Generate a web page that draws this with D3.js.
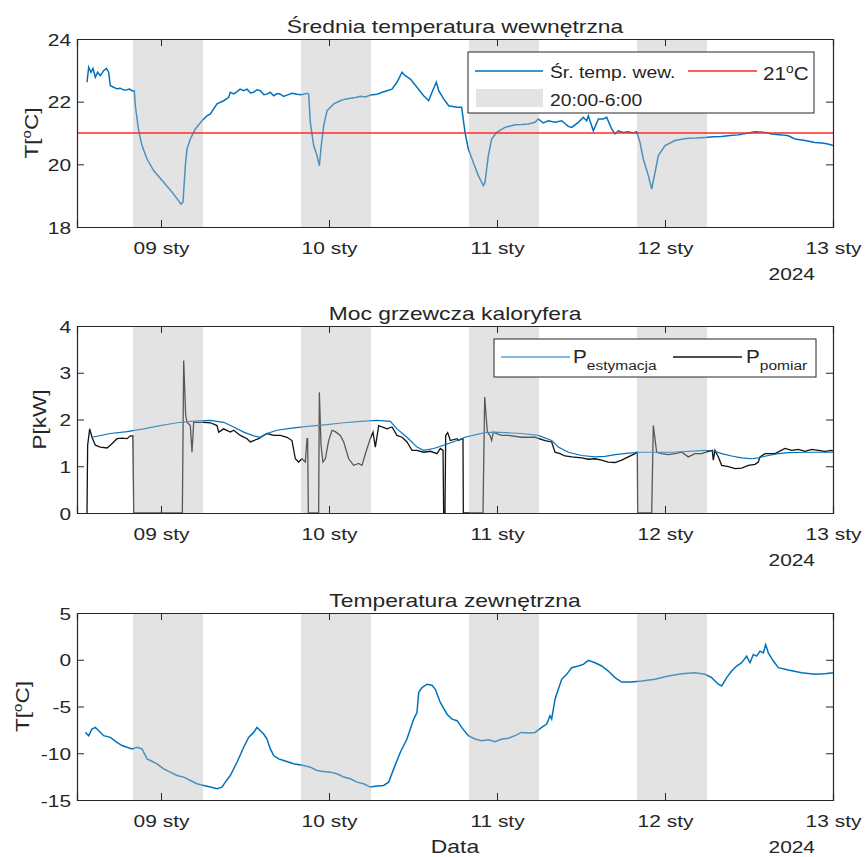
<!DOCTYPE html>
<html><head><meta charset="utf-8">
<script src="https://cdn.jsdelivr.net/npm/d3@7"></script>
<style>body{margin:0;background:#fff}svg{display:block}text{font-family:"Liberation Sans",Arial,sans-serif;fill:#262626}</style>
</head><body>
<svg id="c" width="865" height="857"></svg>
<script>
// ---- data (time in hours since 2024-01-08 12:00) ----
const tickLabels = ["09 sty","10 sty","11 sty","12 sty","13 sty"];
const yearLabel = "2024";
const titles = ["Średnia temperatura wewnętrzna","Moc grzewcza kaloryfera","Temperatura zewnętrzna"];
const nightStartH = [8, 32, 56, 80];   // 20:00 each evening
const nightEndH   = [18, 42, 66, 90];  // 6:00 next morning
const setpoint = 21;

const tinH = [1.43,1.67,2.0,2.29,2.62,2.95,3.33,3.81,4.19,4.52,4.76,5.24,5.7,6.19,6.7,7.14,7.5,7.86,8.19,8.33,8.81,9.29,10.0,10.95,12.38,13.81,14.86,15.14,15.48,15.71,16.19,16.9,17.86,18.57,19.05,20.0,20.95,21.67,21.9,22.4,22.86,23.3,23.81,24.29,24.8,25.24,25.7,26.19,26.7,27.14,27.6,28.1,28.6,29.05,29.5,30.0,30.7,31.43,32.1,32.86,33.1,33.33,33.81,34.29,34.62,34.9,35.24,35.71,36.67,37.62,38.3,39.05,39.8,40.48,41.2,41.9,42.86,43.6,44.29,45.0,45.71,46.43,46.9,47.62,48.57,49.52,50.24,50.71,51.33,51.67,52.38,53.1,54.29,54.95,55.43,55.9,56.62,57.33,58.05,58.29,58.76,59.24,59.95,61.14,62.57,63.5,64.48,65.43,65.9,66.6,67.33,68.29,69.24,70.19,70.67,71.62,72.33,72.81,73.05,73.76,74.48,75.19,75.67,76.38,76.86,77.33,78.0,78.76,79.4,79.95,80.43,80.9,81.62,82.1,82.57,83.05,84.0,85.43,86.4,87.33,88.5,89.71,90.9,92.1,93.3,94.48,95.9,96.86,98.29,99.24,100.67,101.62,102.57,104.0,105.43,106.38,107.1,107.81,108.0];
const tinV = [22.62,23.10,22.94,23.06,22.78,22.94,22.83,22.99,23.06,22.94,22.51,22.46,22.41,22.43,22.37,22.38,22.40,22.35,22.35,21.87,21.07,20.60,20.17,19.80,19.43,19.05,18.73,18.79,19.96,20.49,20.81,21.13,21.39,21.55,21.61,21.93,22.03,22.14,22.30,22.25,22.32,22.40,22.35,22.40,22.28,22.30,22.38,22.35,22.22,22.24,22.30,22.19,22.26,22.24,22.17,22.21,22.27,22.24,22.22,22.27,22.24,21.34,20.60,20.28,19.96,20.60,21.23,21.71,21.93,22.03,22.08,22.11,22.13,22.17,22.15,22.21,22.24,22.30,22.35,22.40,22.62,22.94,22.83,22.72,22.46,22.19,22.03,22.30,22.62,22.35,22.09,21.87,21.82,21.82,21.02,20.49,20.06,19.64,19.32,19.43,20.28,20.81,21.02,21.18,21.26,21.27,21.29,21.34,21.45,21.32,21.39,21.34,21.39,21.21,21.18,21.34,21.50,21.39,21.55,21.07,21.45,21.45,21.50,21.13,20.97,21.07,21.02,21.04,21.00,21.04,20.70,20.17,19.64,19.21,19.74,20.28,20.60,20.76,20.80,20.83,20.84,20.86,20.88,20.89,20.92,20.94,21.00,21.04,21.02,20.97,20.94,20.91,20.81,20.76,20.70,20.68,20.66,20.62,20.60];

const pEstH = [2.14,4.76,7.14,9.52,11.9,14.29,16.19,19.05,20.95,22.38,23.81,25.24,26.19,27.14,28.57,30.95,33.33,35.71,38.1,40.48,42.86,44.76,45.71,47.14,48.57,49.52,50.95,52.38,54.29,55.43,56.86,58.29,59.71,61.14,63.52,65.9,67.81,68.76,70.19,72.1,74.0,75.43,76.86,78.76,80.67,84.95,87.33,89.71,91.14,92.1,93.52,94.95,96.38,97.33,98.76,100.19,101.62,104.0,108.0];
const pEstV = [1.62,1.70,1.74,1.80,1.87,1.93,1.96,1.98,1.94,1.84,1.73,1.65,1.62,1.70,1.77,1.82,1.86,1.89,1.93,1.96,1.98,1.96,1.80,1.62,1.41,1.34,1.38,1.45,1.55,1.62,1.67,1.72,1.73,1.72,1.70,1.66,1.55,1.41,1.30,1.23,1.20,1.21,1.25,1.28,1.30,1.30,1.32,1.34,1.32,1.27,1.22,1.18,1.16,1.18,1.23,1.27,1.29,1.30,1.30];

const pMeasH = [1.43,1.52,1.81,2.14,2.62,3.33,4.29,4.76,5.24,5.71,6.43,7.14,7.62,8.0,8.1,15.05,15.24,15.52,15.71,16.19,16.43,16.67,17.14,18.1,19.05,20.0,20.24,20.95,21.9,22.38,23.33,24.29,24.76,25.24,25.95,26.67,27.14,28.1,29.05,30.0,30.71,31.19,31.67,32.14,32.62,32.86,32.95,33.05,34.52,34.62,34.86,35.14,35.48,35.95,36.43,36.9,37.62,38.1,38.81,39.52,40.24,40.71,41.43,41.9,42.29,42.62,43.1,43.57,44.29,45.0,45.71,46.43,47.14,47.86,48.57,49.52,50.48,51.43,51.9,52.29,52.38,52.57,52.67,52.95,53.33,54.29,54.48,55.05,55.14,55.19,58.0,58.24,58.62,59.0,59.24,59.48,59.95,60.67,61.62,63.52,65.43,66.86,67.81,68.29,69.0,69.71,70.67,72.1,73.05,74.0,74.95,75.9,76.86,77.81,78.76,79.71,79.95,80.05,80.1,82.1,82.33,82.81,83.52,84.48,85.43,86.38,87.33,88.29,89.24,90.19,90.76,90.9,91.14,91.62,92.1,93.05,94.0,94.95,95.9,96.86,97.33,97.57,98.29,99.71,101.14,102.1,103.05,104.0,104.95,105.9,106.86,107.81,108.0];
const pMeasV = [0,1.45,1.80,1.62,1.45,1.41,1.39,1.45,1.52,1.59,1.60,1.59,1.65,1.65,0,0,3.26,2.10,1.94,1.87,1.30,1.94,1.94,1.94,1.93,1.87,1.73,1.80,1.73,1.77,1.66,1.59,1.52,1.55,1.59,1.66,1.70,1.66,1.66,1.62,1.55,1.16,1.09,1.16,1.09,1.59,1.59,0,0,2.58,1.45,1.09,1.16,1.55,1.77,1.74,1.66,1.52,1.16,1.02,1.06,1.02,1.38,1.59,1.73,1.41,1.87,1.84,1.80,1.84,1.66,1.62,1.52,1.34,1.34,1.30,1.32,1.27,1.38,1.34,0,0,1.66,1.72,1.55,1.59,1.55,1.59,1.59,0,0,2.48,1.73,1.66,1.55,1.73,1.70,1.66,1.66,1.62,1.62,1.55,1.52,1.30,1.27,1.22,1.20,1.18,1.15,1.16,1.13,1.09,1.08,1.13,1.20,1.27,1.30,1.30,0,0,1.87,1.30,1.27,1.25,1.27,1.30,1.20,1.27,1.27,1.32,1.34,1.13,1.34,1.20,1.02,0.99,0.95,0.96,1.02,1.04,1.09,1.20,1.27,1.27,1.38,1.34,1.36,1.32,1.36,1.34,1.32,1.34,1.33];

const toutH = [1.19,1.67,2.14,2.62,3.1,3.81,4.76,5.71,6.43,7.14,7.86,8.57,9.29,10.0,10.48,11.43,12.38,13.33,14.29,15.24,16.19,17.14,18.1,19.05,20.0,20.71,21.19,21.9,22.86,23.81,24.52,25.24,25.71,26.19,26.67,27.14,27.62,28.1,28.81,29.52,30.95,32.38,33.33,34.29,35.24,36.19,37.14,38.1,39.05,40.0,40.95,41.9,42.86,43.81,44.52,45.24,46.19,47.14,48.1,48.57,48.81,49.29,50.0,50.71,51.19,51.9,52.86,53.57,54.29,54.48,54.95,55.9,56.86,57.81,58.76,59.71,60.67,61.62,62.57,63.52,64.48,65.43,66.38,67.1,67.57,67.81,68.29,68.76,69.24,69.95,70.67,71.62,72.33,73.05,74.0,74.95,75.9,76.86,77.81,79.24,80.67,82.57,84.48,86.38,88.29,89.71,90.67,91.62,92.1,92.81,93.52,94.24,94.95,95.67,96.14,96.62,97.1,97.57,98.05,98.38,98.76,99.48,100.19,101.62,103.52,105.43,106.86,108.0];
const toutV = [-7.77,-8.12,-7.41,-7.23,-7.59,-8.12,-8.30,-8.83,-9.18,-9.36,-9.54,-9.36,-9.54,-10.60,-10.78,-11.13,-11.67,-12.02,-12.38,-12.55,-12.91,-13.26,-13.44,-13.62,-13.79,-13.62,-13.09,-12.38,-10.96,-9.36,-8.30,-7.77,-7.23,-7.59,-7.94,-8.48,-9.54,-10.25,-10.60,-10.78,-11.13,-11.31,-11.49,-11.84,-11.95,-12.02,-12.20,-12.55,-12.73,-13.09,-13.26,-13.62,-13.51,-13.44,-13.09,-11.67,-9.89,-8.48,-6.35,-5.64,-3.51,-2.98,-2.62,-2.73,-3.16,-4.57,-5.82,-6.35,-6.52,-6.70,-7.23,-8.12,-8.48,-8.65,-8.55,-8.76,-8.48,-8.40,-8.12,-7.77,-7.84,-7.77,-7.23,-6.88,-5.99,-6.35,-4.22,-3.16,-2.09,-1.56,-0.85,-0.67,-0.50,-0.07,-0.32,-0.67,-1.21,-1.91,-2.38,-2.38,-2.27,-2.09,-1.74,-1.49,-1.38,-1.56,-1.91,-2.62,-2.80,-1.91,-1.21,-0.67,-0.32,0.39,-0.32,0.57,0.39,0.92,0.74,1.63,0.74,-0.14,-0.85,-1.10,-1.38,-1.56,-1.49,-1.38];

// ---- layout ----
const L = 77, R = 833;
const SX = 1.23; // horizontal glyph stretch of the reference font
const panels = [
  {top:39, bot:227, dom:[18,24], ticks:[18,20,22,24], unit:true, ylx:38},
  {top:326, bot:513, dom:[0,4], ticks:[0,1,2,3,4], ylab:"P[kW]", ylx:46},
  {top:613, bot:800, dom:[-15,5], ticks:[-15,-10,-5,0,5], unit:true, ylx:29}
];
const t0 = new Date(2024,0,8,12,0,0);
const hd = h => new Date(t0.getTime() + h*3600e3);
const x = d3.scaleTime().domain([t0, hd(108)]).range([L, R]);
const tickDates = tickLabels.map((s,i)=> new Date(2024,0,9+i));
const blue = "#0072BD", red = "#FF2A2A", dark = "#262626";
const svg = d3.select("#c");

function stretch(sel, k){
  sel.each(function(){
    const t = d3.select(this);
    const xx = +(t.attr("x")||0);
    t.attr("x", xx/k);
    const tr = t.attr("transform")||"";
    t.attr("transform", tr + ` scale(${k},1)`);
  });
  return sel;
}
function htext(parent, x0, y0, size, k){
  return parent.append("text").attr("transform",`translate(${x0},${y0}) scale(${k||SX},1)`).attr("font-size",size);
}
function degLabel(sel, pre, post, sup){
  sel.append("tspan").text(pre);
  sel.append("tspan").text("o").attr("font-size", sup||11).attr("dy", -7);
  sel.append("tspan").text(post).attr("dy", 7);
}

panels.forEach((p, i) => {
  const y = d3.scaleLinear().domain(p.dom).range([p.bot, p.top]);
  const g = svg.append("g");
  const cid = "clip"+i;
  svg.append("clipPath").attr("id", cid).append("rect").attr("x", L).attr("y", p.top).attr("width", R-L).attr("height", p.bot-p.top);
  const plot = g.append("g").attr("clip-path", `url(#${cid})`);
  const line = d3.line().x(d=>x(hd(d[0]))).y(d=>y(d[1]));

  if (i === 0) {
    plot.append("path").datum(d3.zip(tinH, tinV)).attr("d", line).attr("fill","none").attr("stroke",blue).attr("stroke-width",1.5);
  } else if (i === 1) {
    plot.append("path").datum(d3.zip(pMeasH, pMeasV)).attr("d", line).attr("fill","none").attr("stroke","#111").attr("stroke-width",1.3);
    plot.append("path").datum(d3.zip(pEstH, pEstV)).attr("d", line).attr("fill","none").attr("stroke",blue).attr("stroke-width",1.2);
  } else {
    plot.append("path").datum(d3.zip(toutH, toutV)).attr("d", line).attr("fill","none").attr("stroke",blue).attr("stroke-width",1.5);
  }
  plot.selectAll("rect.night").data(d3.zip(nightStartH, nightEndH)).join("rect")
    .attr("x", d=>x(hd(d[0]))).attr("width", d=>x(hd(d[1]))-x(hd(d[0])))
    .attr("y", p.top).attr("height", p.bot-p.top)
    .attr("fill", "#bdbdbd").attr("fill-opacity", 0.42);
  if (i === 0) {
    plot.append("line").attr("x1",L).attr("x2",R).attr("y1",y(setpoint)).attr("y2",y(setpoint)).attr("stroke",red).attr("stroke-width",1.3);
  }

  const xb = d3.axisBottom(x).tickValues(tickDates).tickSize(-7).tickFormat((d,k)=>tickLabels[k]).tickPadding(15);
  const xt = d3.axisTop(x).tickValues(tickDates).tickSize(-7).tickFormat("");
  const yl = d3.axisLeft(y).tickValues(p.ticks).tickSize(-7).tickPadding(6).tickFormat(d=>String(d));
  const yr = d3.axisRight(y).tickValues(p.ticks).tickSize(-7).tickFormat("");
  const ax = [
    g.append("g").attr("transform",`translate(0,${p.bot})`).call(xb),
    g.append("g").attr("transform",`translate(0,${p.top})`).call(xt),
    g.append("g").attr("transform",`translate(${L},0)`).call(yl),
    g.append("g").attr("transform",`translate(${R},0)`).call(yr)
  ];
  ax.forEach(a => {
    a.selectAll("path.domain").attr("stroke", dark).attr("stroke-width", 1.2);
    a.selectAll(".tick line").attr("stroke", dark).attr("stroke-width", 1);
    a.selectAll(".tick text").attr("font-size", 17).attr("font-family","Liberation Sans, Arial, sans-serif").attr("fill", dark);
  });
  ax[2].selectAll(".tick text").attr("dy","0.36em");
  stretch(ax[0].selectAll(".tick text"), SX);
  stretch(ax[2].selectAll(".tick text"), SX);
  htext(g, 815, p.bot+53, 17).attr("text-anchor","end").text(yearLabel);

  htext(g, (L+R)/2, p.top-6, 18, 1.27).attr("text-anchor","middle").text(titles[i]);
  const yt = g.append("text").attr("transform",`translate(${p.ylx},${(p.top+p.bot)/2}) rotate(-90) scale(1.25,1)`).attr("text-anchor","middle").attr("font-size",18);
  if (p.unit) degLabel(yt, "T[", "C]", 12); else yt.text(p.ylab);
});

htext(svg, (L+R)/2, 853, 18, 1.27).attr("text-anchor","middle").text("Data");

// legend 1
{
  const g = svg.append("g");
  g.append("rect").attr("x",468).attr("y",52).attr("width",346).attr("height",61).attr("fill","#fff").attr("stroke",dark).attr("stroke-width",1);
  g.append("line").attr("x1",475).attr("x2",543).attr("y1",71).attr("y2",71).attr("stroke",blue).attr("stroke-width",1.5);
  htext(g, 550, 78, 16.5, 1.17).text("Śr. temp. wew.");
  g.append("line").attr("x1",688).attr("x2",757).attr("y1",71).attr("y2",71).attr("stroke",red).attr("stroke-width",1.3);
  const t = htext(g, 763, 80, 18, 1.15);
  degLabel(t, "21", "C", 12);
  g.append("rect").attr("x",476).attr("y",89).attr("width",67).attr("height",18).attr("fill","#bdbdbd").attr("fill-opacity",0.42);
  htext(g, 550, 106, 16.5, 1.17).text("20:00-6:00");
}
// legend 2
{
  const g = svg.append("g");
  g.append("rect").attr("x",494).attr("y",339).attr("width",322).attr("height",38).attr("fill","#fff").attr("stroke",dark).attr("stroke-width",1);
  g.append("line").attr("x1",501).attr("x2",570).attr("y1",357).attr("y2",357).attr("stroke",blue).attr("stroke-width",1.2);
  const a = htext(g, 573, 363, 18, 1.15);
  a.append("tspan").text("P");
  a.append("tspan").text("estymacja").attr("font-size",13.5).attr("dy",7);
  g.append("line").attr("x1",673).attr("x2",742).attr("y1",357).attr("y2",357).attr("stroke","#111").attr("stroke-width",1.3);
  const b = htext(g, 746, 363, 18, 1.15);
  b.append("tspan").text("P");
  b.append("tspan").text("pomiar").attr("font-size",13.5).attr("dy",7);
}
</script>
</body></html>
